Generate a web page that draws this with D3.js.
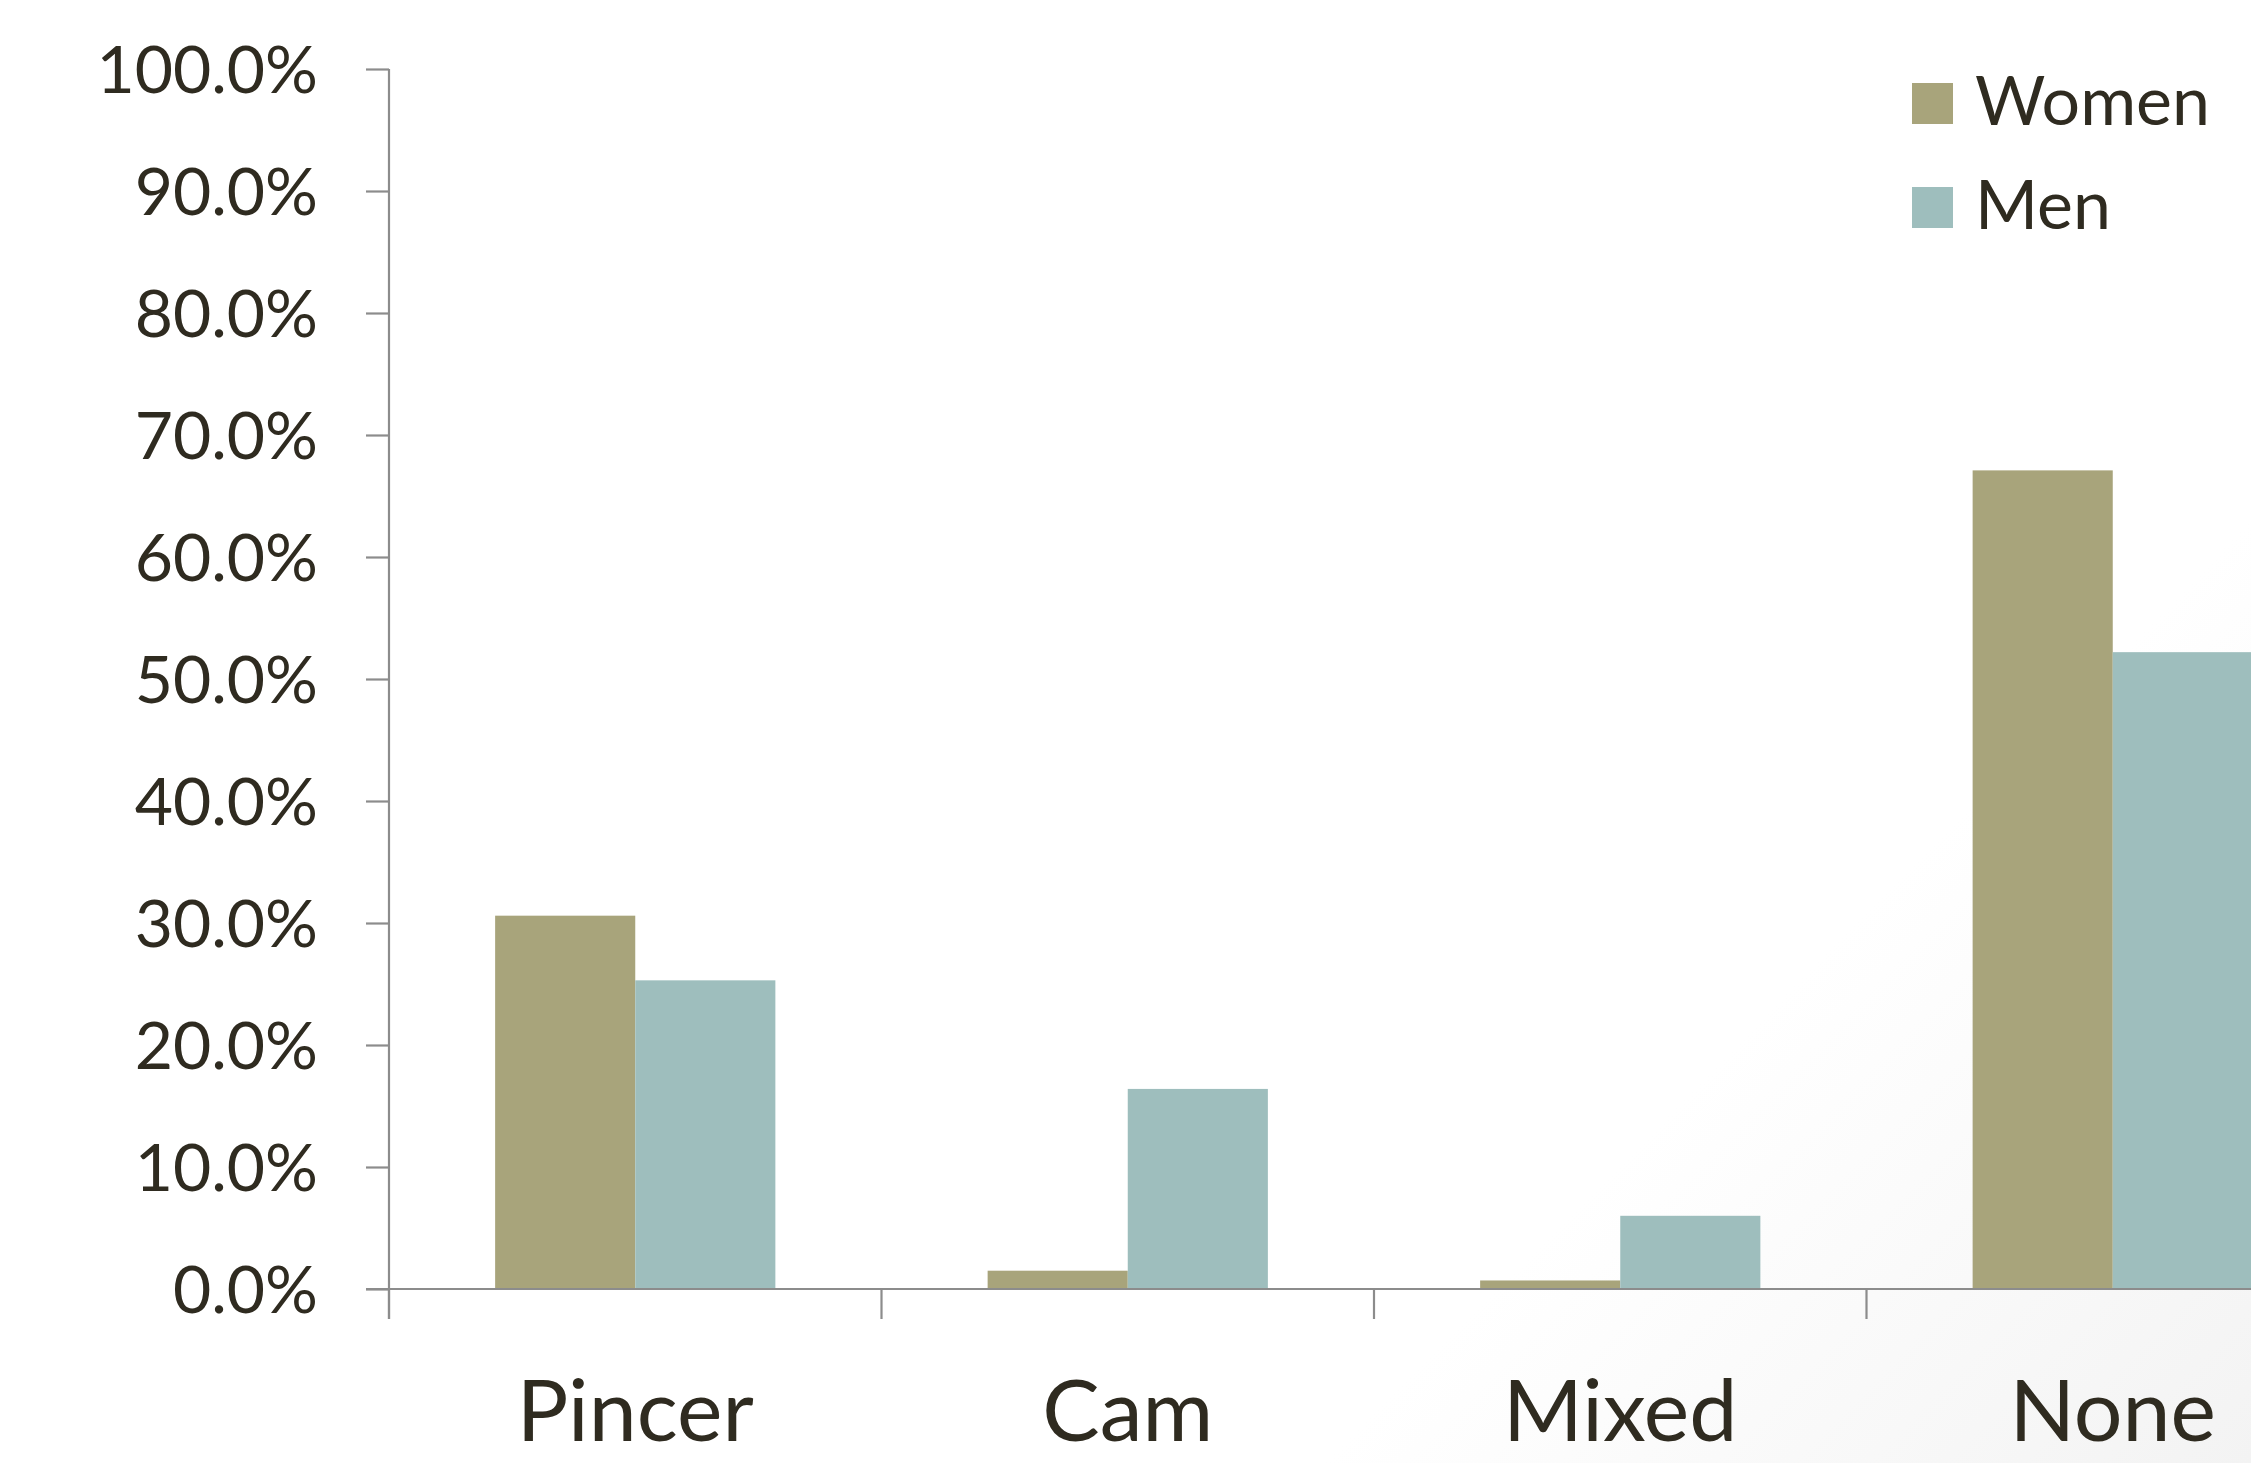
<!DOCTYPE html>
<html>
<head>
<meta charset="utf-8">
<script src="https://cdn.jsdelivr.net/npm/d3@7"></script>
<style>
  html, body { margin: 0; padding: 0; background: #ffffff; }
  svg { display: block; }
  text { font-family: Lato, "Open Sans", sans-serif; fill: #2f2b20; }
</style>
</head>
<body>
<svg id="chart" width="2251" height="1463"></svg>
<script>
// Share of each grasp type, by sex (percent)
const categories = ["Pincer", "Cam", "Mixed", "None"];
const seriesNames = ["Women", "Men"];
const women = [30.6, 1.5, 0.7, 67.1];
const men = [25.3, 16.4, 6.0, 52.2];
const yTicks = [0, 10, 20, 30, 40, 50, 60, 70, 80, 90, 100];
const colors = ["#a8a47b", "#9ebebd"];

(function draw() {
  const W = 2251, H = 1463;
  const svg = d3.select("#chart");

  // soft grey vignette toward the lower right corner
  const defs = svg.append("defs");
  const grad = defs.append("linearGradient")
    .attr("id", "bg").attr("gradientUnits", "userSpaceOnUse")
    .attr("x1", 1780).attr("y1", 1000).attr("x2", 2251).attr("y2", 1463);
  grad.append("stop").attr("offset", 0).attr("stop-color", "#ffffff");
  grad.append("stop").attr("offset", 1).attr("stop-color", "#f3f3f3");
  svg.append("rect").attr("width", W).attr("height", H).attr("fill", "url(#bg)");

  const plotLeft = 389, plotBottom = 1289, plotTop = 69;
  const step = 492.5;

  const x0 = d3.scaleBand()
    .domain(categories)
    .range([plotLeft, plotLeft + step * categories.length])
    .paddingInner(0.431)
    .paddingOuter(0.2155);

  const x1 = d3.scaleBand()
    .domain(seriesNames)
    .range([0, x0.bandwidth()]);

  const y = d3.scaleLinear().domain([0, 100]).range([plotBottom, plotTop]);

  const rows = categories.map((c, i) => ({ cat: c, values: [women[i], men[i]] }));

  // bars
  svg.append("g").selectAll("g.cat")
    .data(rows)
    .join("g")
    .attr("class", "cat")
    .attr("transform", d => `translate(${x0(d.cat)},0)`)
    .selectAll("rect")
    .data(d => d.values.map((v, j) => ({ name: seriesNames[j], v, j })))
    .join("rect")
    .attr("x", d => x1(d.name))
    .attr("width", x1.bandwidth())
    .attr("y", d => y(d.v))
    .attr("height", d => y(0) - y(d.v))
    .attr("fill", d => colors[d.j]);

  const axisColor = "#8c8c8c";

  // y axis
  const yAxis = svg.append("g")
    .attr("transform", `translate(${plotLeft},0)`)
    .call(d3.axisLeft(y).tickValues(yTicks).tickSize(23).tickPadding(48)
      .tickFormat(d => d.toFixed(1) + "%"));
  yAxis.select(".domain").attr("stroke", axisColor).attr("stroke-width", 2.2)
    .attr("d", `M0,${plotTop}V${plotBottom + 30}`);
  yAxis.selectAll(".tick line").attr("stroke", axisColor).attr("stroke-width", 2.2);
  yAxis.selectAll(".tick text")
    .style("font-family", "Lato, 'Open Sans', sans-serif")
    .attr("font-size", 66).attr("fill", "#2f2b20")
    .attr("dy", "0.36em");

  // x axis with boundary ticks between categories
  const xAxisG = svg.append("g").attr("transform", `translate(0,${plotBottom})`);
  xAxisG.append("line")
    .attr("x1", plotLeft - 23).attr("x2", W + 10)
    .attr("y1", 0).attr("y2", 0)
    .attr("stroke", axisColor).attr("stroke-width", 2.2);
  const bounds = categories.map((c, i) => plotLeft + step * i);
  xAxisG.selectAll("line.sep")
    .data(bounds)
    .join("line")
    .attr("class", "sep")
    .attr("x1", d => d).attr("x2", d => d)
    .attr("y1", 0).attr("y2", 30)
    .attr("stroke", axisColor).attr("stroke-width", 2.2);
  xAxisG.selectAll("text.cat")
    .data(categories)
    .join("text")
    .attr("class", "cat")
    .attr("x", d => x0(d) + x0.bandwidth() / 2)
    .attr("y", 152)
    .attr("text-anchor", "middle")
    .attr("font-size", 86)
    .text(d => d);

  // legend
  const legend = svg.append("g");
  seriesNames.forEach((name, i) => {
    const ly = 83 + i * 104;
    legend.append("rect")
      .attr("x", 1912).attr("y", ly)
      .attr("width", 41).attr("height", 41)
      .attr("fill", colors[i]);
    legend.append("text")
      .attr("x", 1975).attr("y", ly + 42)
      .attr("font-size", 68)
      .text(name);
  });
})();
</script>
</body>
</html>
